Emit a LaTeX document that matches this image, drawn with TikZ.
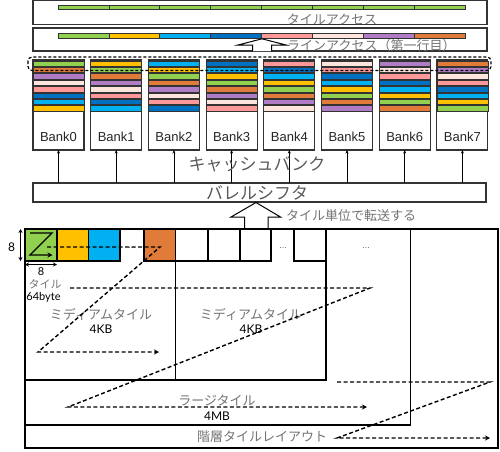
\documentclass[tikz,border=0pt]{standalone}
\usepackage{fontspec}
\setmainfont{Liberation Sans}
\newfontfamily\jp{Noto Sans CJK JP}
\newfontfamily\gill{Lato}
\usetikzlibrary{arrows.meta}
\definecolor{cG}{HTML}{92D050}
\definecolor{cY}{HTML}{FFC000}
\definecolor{cC}{HTML}{00B0F0}
\definecolor{cB}{HTML}{0070C0}
\definecolor{cP}{HTML}{FF9999}
\definecolor{cL}{HTML}{FDE4DC}
\definecolor{cV}{HTML}{B07CC6}
\definecolor{cO}{HTML}{E07B39}
\newcommand\bankcol[1]{\ifcase#1 cG\or cY\or cC\or cB\or cP\or cL\or cV\or cO\fi}
\begin{document}
\begin{tikzpicture}[x=1pt,y=-1pt,
  box/.style={draw=black!80, line width=1.1pt, inner sep=0pt, outer sep=0pt},
  seg/.style={draw=black!80, line width=0.7pt},
  jp/.style={font=\jp\fontsize{13}{13}\selectfont, text=black!55, inner sep=0pt},
  jpbig/.style={font=\jp\fontsize{17}{17}\selectfont, text=black!65, inner sep=0pt},
  lat/.style={font=\gill\fontsize{12}{12}\selectfont, text=black, inner sep=0pt},
  banktxt/.style={font=\fontsize{13}{13}\selectfont, text=black!85, inner sep=0pt},
  hollow/.style={draw=black, fill=white, line width=1pt, line join=miter},
  zdash/.style={line width=1.4pt, dash pattern=on 4pt off 2.5pt},
  zarrow/.style={-{Stealth[length=5pt,width=5pt]}},
  tile/.style={draw=black, line width=1.2pt},
  frame/.style={draw=black, line width=1.5pt},
  dots/.style={font=\fontsize{9}{9}\selectfont, text=black!60, inner sep=0pt},
]
\useasboundingbox (0,0) rectangle (500,451);
% ---------- top: tile access ----------
\node[box, anchor=north west, minimum width=454pt, minimum height=24pt] (tileacc) at (33,0.8) {};
\foreach \i in {0,...,7}{
  \fill[cG, seg] ({58+50.875*\i},5) rectangle ({58+50.875*(\i+1)},9);
}
\node[jp] (tileacctxt) at (332,19) {タイルアクセス};
% ---------- line access ----------
\node[box, anchor=north west, minimum width=454pt, minimum height=23pt] (lineacc) at (33,28) {};
\foreach \i in {0,...,7}{
  \edef\cn{\bankcol{\i}}
  \fill[fill=\cn, seg] ({58+50.875*\i},33) rectangle ({58+50.875*(\i+1)},38.5);
}
\draw[hollow] (252.5,51) -- (252.5,45) -- (238,45) -- (262,38.8) -- (286,45) -- (271.5,45) -- (271.5,51);
\node[jp, anchor=west] (lineacctxt) at (287,46) {ラインアクセス（第一行目）};
% ---------- barrel shifter ----------
\node[box, anchor=north west, minimum width=453pt, minimum height=19pt] (barrel) at (33,183) {};
\node[jpbig] (barreltxt) at (257,193) {バレルシフタ};
% ---------- banks ----------
\foreach \k in {0,...,7}{
  \pgfmathsetmacro\xl{33+57.7*\k}
  \node[box, anchor=north west, minimum width=51pt, minimum height=90pt] (bank\k) at (\xl,60) {};
  \node[banktxt] (banklab\k) at ({\xl+25.5},137) {Bank\k};
  \foreach \r in {0,...,7}{
    \pgfmathtruncatemacro\ci{mod(\k-\r+8,8)}
    \edef\cn{\bankcol{\ci}}
    \fill[fill=\cn, seg] (\xl,{61+6.375*\r}) rectangle ({\xl+51},{66.4+6.375*\r});
  }
  \draw[-{Stealth[length=3.5pt,width=3pt]}, line width=0.6pt] (bank\k.south |- barrel.north) -- (bank\k.south);
}
\draw[line width=1.2pt, dash pattern=on 3pt off 2pt, rounded corners=4pt] (28,57) rectangle (491,70.5);
\node[jpbig] (cachetxt) at (257,164) {キャッシュバンク};
% ---------- transfer arrow ----------
\draw[hollow] (244.5,228.5) -- (244.5,217) -- (231,217) -- (256,202.5) -- (280.5,217) -- (268,217) -- (268,228.5);
\node[jp, anchor=west] (transtxt) at (286,216) {タイル単位で転送する};
% ---------- bottom layout ----------
\fill[cG] (25,229) rectangle (57,261);
\fill[cY] (57,229) rectangle (88.5,261);
\fill[cC] (88.5,229) rectangle (120,261);
\fill[cO] (144,229) rectangle (175.5,261);
\draw[tile] (25,229) rectangle (57,261);
\draw[tile] (57,229) rectangle (88.5,261);
\draw[tile] (88.5,229) rectangle (120,261);
\draw[tile] (144,229) rectangle (175.5,261);
\draw[tile] (175.5,229) rectangle (208,261);
\draw[tile] (208,229) rectangle (240,261);
\draw[tile] (240,229) rectangle (271,261);
\draw[tile] (294,229) rectangle (326,261);
\draw[frame] (25,229) rectangle (175.5,380);
\draw[frame] (175.5,229) rectangle (326,380);
\draw[frame] (25,229) -- (410.5,229) -- (410.5,425) -- (25,425);
\draw[frame] (25,229) rectangle (498,448);
\node[dots] (dotsA) at (132,248) {...};
\node[dots] (dotsB) at (283,248) {...};
\node[dots] (dotsC) at (366,248) {...};
% Z in green tile
\coordinate (za) at (30,233);
\coordinate (zb) at (52,233);
\coordinate (zc) at (30,255);
\coordinate (zd) at (52.5,255);
\draw[line width=1.3pt, -{Stealth[length=5pt,width=5pt]}] (za) -- (zb) -- (zc) -- (zd);
% size marks
\coordinate (v8a) at (20.5,229);
\coordinate (v8b) at (20.5,261);
\draw[{Stealth[length=4pt,width=4pt]}-{Stealth[length=4pt,width=4pt]}, line width=1pt] (v8a) -- (v8b);
\node[lat] (v8txt) at (11.5,247) {8};
\coordinate (h8a) at (25,264.5);
\coordinate (h8b) at (57,264.5);
\draw[{Stealth[length=4pt,width=4pt]}-{Stealth[length=4pt,width=4pt]}, line width=1pt] (h8a) -- (h8b);
\node[lat, font=\gill\fontsize{11}{11}\selectfont] (h8txt) at (41,271.5) {8};
\node[jp, font=\jp\fontsize{11}{11}\selectfont] (tiletxt) at (45,284) {タイル};
\node[lat, font=\gill\fontsize{11}{11}\selectfont] (bytetxt) at (43.5,297) {64byte};
% labels
\node[jp] (med1) at (101,314) {ミディアムタイル};
\node[lat] (med1kb) at (101,329) {4KB};
\node[jp] (med2) at (251,314) {ミディアムタイル};
\node[lat] (med2kb) at (251,329) {4KB};
\node[jp] (largetxt) at (217,400) {ラージタイル};
\node[lat] (largemb) at (217,416) {4MB};
\node[jp] (hiertxt) at (262,437) {階層タイルレイアウト};
% dashed Z paths
\coordinate (p1a) at (47,247);
\coordinate (p1b) at (160,247);
\coordinate (p1c) at (38,352);
\coordinate (p1d) at (159,352);
\draw[zdash, zarrow] (p1a) -- (p1b) -- (p1c) -- (p1d);
\coordinate (p2a) at (70,288);
\coordinate (p2b) at (370,288);
\coordinate (p2c) at (68,407);
\coordinate (p2d) at (367,407);
\draw[zdash, zarrow] (p2a) -- (p2b) -- (p2c) -- (p2d);
\coordinate (p3a) at (337,382);
\coordinate (p3b) at (490,382);
\coordinate (p3c) at (337,438);
\coordinate (p3d) at (490,438);
\draw[zdash, zarrow] (p3a) -- (p3b) -- (p3c) -- (p3d);
\end{tikzpicture}
\end{document}
